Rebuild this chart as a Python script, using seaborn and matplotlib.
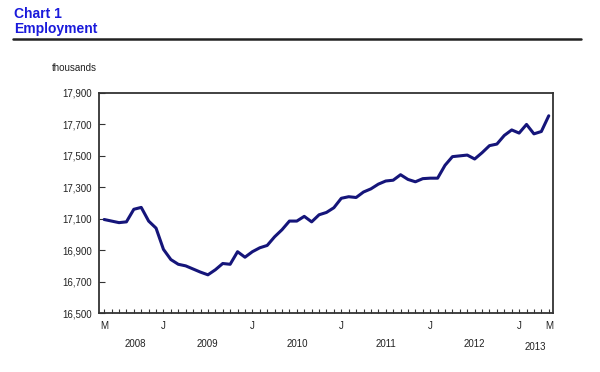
import numpy as np
import pandas as pd
import matplotlib
matplotlib.use('Agg')
import matplotlib.pyplot as plt
import matplotlib.transforms as mtransforms
import seaborn as sns

# ------------------------------------------------------------
# Data: monthly employment (thousands), May 2008 - May 2013
# ------------------------------------------------------------
employment = [
    17095, 17085, 17075, 17080, 17160, 17172, 17085, 17040,          # May-Dec 2008
    16905, 16840, 16810, 16800, 16780, 16760, 16743, 16775,          # Jan-Aug 2009
    16815, 16810, 16890, 16855,                                       # Sep-Dec 2009
    16890, 16915, 16930, 16985, 17030, 17085, 17085, 17115,          # Jan-Aug 2010
    17080, 17125, 17140, 17170,                                       # Sep-Dec 2010
    17230, 17240, 17235, 17270, 17290, 17320, 17340, 17345,          # Jan-Aug 2011
    17380, 17350, 17335, 17355,                                       # Sep-Dec 2011
    17358, 17358, 17440, 17495, 17500, 17505, 17480, 17520,          # Jan-Aug 2012
    17565, 17575, 17630, 17665,                                       # Sep-Dec 2012
    17645, 17700, 17640, 17655, 17755,                                # Jan-May 2013
]
month_idx = list(range(len(employment)))

x_tick_pos = [0, 8, 20, 32, 44, 56, 60]
x_tick_text = ['M', 'J', 'J', 'J', 'J', 'J', 'M']
year_labels = ['2008', '2009', '2010', '2011', '2012', '2013']
year_pos = [4.2, 13.9, 26.0, 38.0, 50.0, 58.2]
y_ticks = [16500, 16700, 16900, 17100, 17300, 17500, 17700, 17900]

df = pd.DataFrame({'month': month_idx, 'employment': employment})

# ------------------------------------------------------------
# Style
# ------------------------------------------------------------
sns.set_style('ticks')
plt.rcParams['font.family'] = ['Liberation Sans', 'DejaVu Sans']

fig = plt.figure(figsize=(6.0, 3.72), dpi=100)
ax = fig.add_axes([0.165, 0.1586, 0.757, 0.5914])

sns.lineplot(data=df, x='month', y='employment', ax=ax,
             color='#15157a', linewidth=2.2)

ax.set_xlim(-0.7, 60.6)
ax.set_ylim(16500, 17900)
ax.set_yticks(y_ticks)
ax.set_yticklabels([f'{v:,}' for v in y_ticks], fontsize=7, color='#222222')
ax.set_xlabel('')
ax.set_ylabel('')

# monthly tick marks, only some labelled
ax.set_xticks(month_idx)
labels = [''] * len(month_idx)
for p, t in zip(x_tick_pos, x_tick_text):
    labels[p] = t
ax.set_xticklabels(labels, fontsize=7, color='#222222')

ax.tick_params(axis='x', direction='in', length=3, width=0.8, pad=6, color='#333333')
ax.tick_params(axis='y', direction='in', length=4, width=0.8, pad=5, color='#333333')

for s in ax.spines.values():
    s.set_visible(True)
    s.set_color('#333333')
    s.set_linewidth(1.3)

# year labels under the month letters
trans = mtransforms.blended_transform_factory(ax.transData, ax.transAxes)
for yr, xp in zip(year_labels, year_pos):
    yy = -0.155 if yr == '2013' else -0.14
    ax.text(xp, yy, yr, transform=trans, ha='center', va='center',
            fontsize=7, color='#222222')

# title block
fig.text(0.024, 0.962, 'Chart 1', fontsize=10, fontweight='bold',
         color='#1a1adb', ha='left', va='center')
fig.text(0.024, 0.922, 'Employment', fontsize=10, fontweight='bold',
         color='#1a1adb', ha='left', va='center')
fig.add_artist(plt.Line2D([0.022, 0.968], [0.896, 0.896],
                          transform=fig.transFigure, color='#222222', linewidth=1.8))

fig.text(0.087, 0.818, 'thousands', fontsize=7, color='#222222',
         ha='left', va='center')

fig.savefig('out.png', dpi=100)
